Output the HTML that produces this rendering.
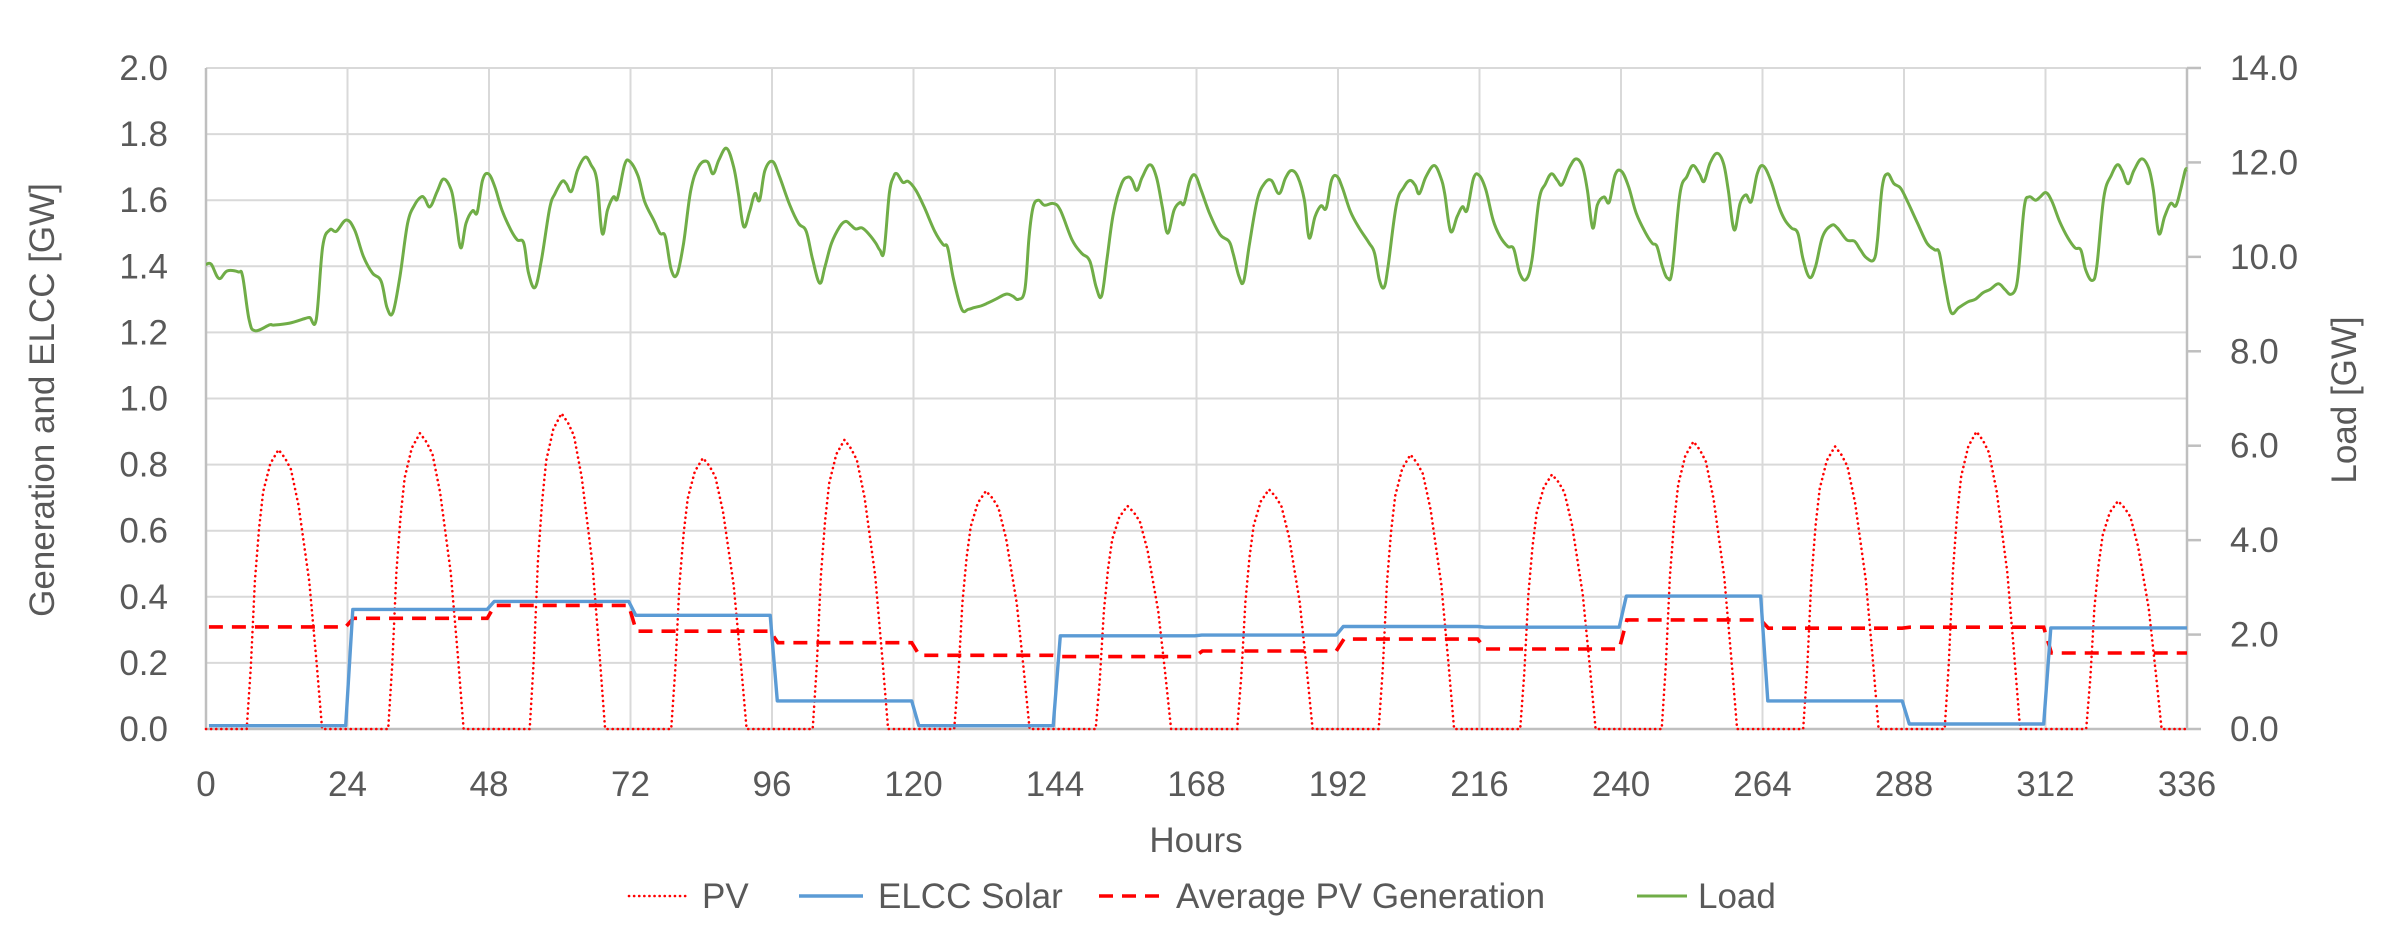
<!DOCTYPE html>
<html><head><meta charset="utf-8">
<style>
html,body{margin:0;padding:0;background:#fff;}
svg{display:block;}
text{font-family:"Liberation Sans",sans-serif;fill:#595959;}
</style></head>
<body>
<svg id="c" width="2394" height="942" viewBox="0 0 2394 942" xmlns="http://www.w3.org/2000/svg">
<g id="grid" stroke="#d9d9d9" stroke-width="2"></g>
<g id="series"></g>
<g id="labels"></g>
</svg>
<script>
var NS="http://www.w3.org/2000/svg";
var FS=35;
function X(h){return 206+h*5.8958;}
function Y(v){return 729-v*330.5;}
function el(tag,attrs,parent,txt){var e=document.createElementNS(NS,tag);for(var k in attrs)e.setAttribute(k,attrs[k]);if(txt!==undefined)e.textContent=txt;parent.appendChild(e);return e;}
var grid=document.getElementById('grid'),ser=document.getElementById('series'),lab=document.getElementById('labels');
for(var i=0;i<=10;i++){var y=Y(i*0.2);el('line',{x1:206,x2:2187,y1:y,y2:y},grid);
 el('text',{x:168,y:y+12,'text-anchor':'end','font-size':FS},lab,(i*0.2).toFixed(1));}
for(var d=0;d<=14;d++){var x=X(d*24);el('line',{x1:x,x2:x,y1:68,y2:729},grid);
 el('text',{x:x,y:796,'text-anchor':'middle','font-size':FS},lab,String(d*24));}
el('line',{x1:206,x2:206,y1:68,y2:729,stroke:'#bfbfbf','stroke-width':2.5},grid);
el('line',{x1:206,x2:2187,y1:729,y2:729,stroke:'#bfbfbf','stroke-width':2.5},grid);
el('line',{x1:2187,x2:2187,y1:68,y2:729,stroke:'#bfbfbf','stroke-width':2.5},grid);
for(var j=0;j<=7;j++){var yy=729-j*94.43;el('line',{x1:2187,x2:2201,y1:yy,y2:yy,stroke:'#bfbfbf','stroke-width':2.5},grid);
 el('text',{x:2230,y:yy+12,'text-anchor':'start','font-size':FS},lab,(j*2).toFixed(1));}
el('text',{x:0,y:0,'text-anchor':'middle','font-size':FS,transform:'translate(54,400) rotate(-90)'},lab,'Generation and ELCC [GW]');
el('text',{x:0,y:0,'text-anchor':'middle','font-size':FS,transform:'translate(2356,400) rotate(-90)'},lab,'Load [GW]');
el('text',{x:1196,y:852,'text-anchor':'middle','font-size':FS},lab,'Hours');

var L=[[0,1.406],[0.9,1.406],[2.2,1.363],[3.6,1.386],[5.5,1.383],[6.2,1.37],[7.3,1.24],[8.3,1.205],[10.8,1.223],[11.5,1.222],[14.2,1.228],[16.8,1.242],[17.6,1.245],[18.7,1.24],[19.8,1.46],[21,1.51],[22.1,1.506],[23.8,1.54],[25.2,1.51],[26.7,1.43],[28.2,1.38],[29.7,1.355],[30.7,1.275],[31.7,1.26],[32.9,1.37],[34.2,1.53],[35.4,1.586],[36.5,1.61],[37.1,1.605],[38,1.58],[39.2,1.626],[40.3,1.664],[41.6,1.63],[42.3,1.56],[43.2,1.456],[44.1,1.53],[45.2,1.568],[46,1.563],[46.9,1.66],[47.9,1.68],[49,1.64],[50.2,1.57],[51.7,1.51],[52.8,1.48],[53.9,1.47],[54.7,1.38],[55.8,1.336],[56.9,1.42],[58.3,1.576],[59.2,1.62],[60.4,1.657],[61.1,1.65],[62,1.627],[63,1.69],[64.3,1.73],[65.3,1.707],[66.3,1.66],[67.2,1.50],[68.1,1.57],[69.1,1.61],[69.8,1.606],[71,1.707],[71.9,1.717],[73.3,1.672],[74.4,1.596],[75.9,1.541],[77,1.50],[77.9,1.49],[78.9,1.39],[79.9,1.376],[81,1.47],[82.2,1.627],[83.5,1.70],[85,1.717],[86,1.68],[87,1.722],[88.3,1.757],[89.5,1.70],[90.3,1.62],[91.2,1.52],[92.2,1.566],[93.1,1.62],[93.9,1.60],[94.8,1.69],[96.1,1.717],[97.3,1.67],[99,1.586],[100.5,1.53],[101.8,1.506],[102.9,1.42],[104.1,1.349],[105,1.40],[106.1,1.47],[107.5,1.52],[108.5,1.536],[109.3,1.526],[110.2,1.513],[111.3,1.516],[112.5,1.496],[113.6,1.47],[114.3,1.449],[115,1.446],[115.9,1.62],[116.6,1.67],[117.2,1.68],[118.2,1.654],[119.1,1.657],[120.4,1.63],[121.8,1.58],[123.6,1.506],[125,1.466],[125.8,1.456],[126.8,1.36],[128.2,1.27],[129.3,1.27],[130.3,1.275],[131.4,1.28],[132.5,1.288],[133.9,1.30],[135.7,1.316],[136.8,1.31],[137.8,1.30],[138.9,1.33],[139.6,1.49],[140.3,1.58],[141.2,1.60],[142.2,1.585],[143.7,1.59],[144.9,1.57],[146.9,1.48],[148.5,1.44],[149.9,1.416],[151,1.336],[151.9,1.31],[152.8,1.42],[153.9,1.56],[155.3,1.65],[156.4,1.67],[157.1,1.66],[157.9,1.63],[158.8,1.67],[160.1,1.707],[161.2,1.67],[162.2,1.58],[163.1,1.50],[164.2,1.57],[165.2,1.593],[165.9,1.59],[166.9,1.66],[167.8,1.675],[168.8,1.63],[170.3,1.556],[172,1.496],[173.5,1.476],[174.2,1.44],[175.2,1.37],[176,1.355],[177,1.47],[178.3,1.60],[179.5,1.65],[180.7,1.66],[182,1.62],[183.1,1.667],[184.1,1.69],[185.2,1.67],[186.3,1.60],[187.1,1.486],[188.1,1.55],[189.1,1.583],[190,1.576],[190.9,1.66],[191.8,1.673],[192.7,1.64],[194.1,1.566],[195.6,1.516],[197.3,1.47],[198.2,1.44],[199,1.36],[199.8,1.336],[200.5,1.40],[201.9,1.586],[203.2,1.64],[204.2,1.66],[205.1,1.645],[205.8,1.62],[206.9,1.67],[208.3,1.705],[209.4,1.67],[210.1,1.62],[211.1,1.506],[212.2,1.55],[213.1,1.58],[213.9,1.57],[215,1.667],[216,1.674],[217.1,1.63],[218.3,1.54],[219.5,1.49],[220.8,1.46],[221.8,1.453],[222.8,1.38],[223.9,1.36],[224.9,1.42],[226.1,1.60],[227.2,1.65],[228.2,1.68],[229.2,1.66],[230,1.647],[231.3,1.70],[232.4,1.725],[233.5,1.70],[234.3,1.63],[235.2,1.516],[236,1.586],[237.1,1.61],[238,1.594],[239,1.677],[240.1,1.687],[241.3,1.64],[242.6,1.56],[244.2,1.50],[245.3,1.47],[246.1,1.46],[247,1.40],[247.9,1.364],[248.7,1.39],[250,1.62],[251.2,1.672],[252.2,1.705],[253.3,1.68],[254.1,1.657],[255.1,1.712],[256.3,1.742],[257.4,1.71],[258.2,1.63],[259.2,1.51],[260.2,1.59],[261.2,1.616],[262.1,1.596],[263.1,1.68],[264.1,1.704],[265.4,1.66],[266.8,1.58],[267.8,1.54],[268.9,1.516],[270,1.50],[270.9,1.42],[272,1.366],[273,1.40],[274.2,1.49],[275.7,1.524],[276.7,1.516],[278.3,1.48],[279.6,1.476],[280.6,1.45],[281.6,1.426],[282.9,1.42],[283.5,1.48],[284.3,1.64],[285.2,1.68],[286.3,1.65],[287.4,1.637],[288.6,1.596],[290.3,1.53],[291.9,1.47],[293.2,1.45],[294,1.44],[295,1.34],[296,1.26],[297.3,1.275],[298.9,1.293],[300.1,1.30],[301.4,1.32],[302.6,1.33],[304,1.347],[305.1,1.33],[306.1,1.315],[307,1.335],[307.5,1.40],[308.4,1.58],[309.2,1.61],[310.3,1.60],[311.1,1.61],[312.1,1.623],[313.1,1.596],[314.4,1.536],[315.8,1.486],[317,1.456],[318,1.449],[318.8,1.39],[319.9,1.357],[320.7,1.40],[321.9,1.61],[323.2,1.677],[324.2,1.707],[325,1.69],[326,1.65],[327,1.69],[328.3,1.725],[329.5,1.697],[330.3,1.63],[331.2,1.50],[332.2,1.55],[333.2,1.59],[334.1,1.583],[334.9,1.63],[335.7,1.69],[336,1.692]];
function smooth(pts){var p=pts.map(function(a){return [X(a[0]),Y(a[1])];});var s='M'+p[0][0].toFixed(1)+','+p[0][1].toFixed(1);
 for(var i=0;i<p.length-1;i++){var p0=p[i-1]||p[i],p1=p[i],p2=p[i+1],p3=p[i+2]||p2;var t=0.18;
  var c1x=p1[0]+(p2[0]-p0[0])*t,c1y=p1[1]+(p2[1]-p0[1])*t,c2x=p2[0]-(p3[0]-p1[0])*t,c2y=p2[1]-(p3[1]-p1[1])*t;
  s+=' C'+c1x.toFixed(1)+','+c1y.toFixed(1)+' '+c2x.toFixed(1)+','+c2y.toFixed(1)+' '+p2[0].toFixed(1)+','+p2[1].toFixed(1);}
 return s;}
function poly(pts){return 'M'+pts.map(function(a){return X(a[0]).toFixed(1)+','+Y(a[1]).toFixed(1);}).join(' L');}

var peaks=[0.845,0.895,0.955,0.82,0.875,0.72,0.675,0.725,0.83,0.77,0.87,0.855,0.9,0.69];
var tmpl=[[0,0],[0.7,0.22],[1.4,0.53],[2.1,0.72],[2.8,0.85],[4,0.95],[5.4,1],[6.5,0.97],[7.5,0.93],[8.8,0.8],[10.6,0.53],[11.8,0.25],[12.8,0]];
var pv=[[0,0]];
for(var d=0;d<14;d++){var s0=d*24+6.9;tmpl.forEach(function(t){pv.push([s0+t[0],peaks[d]*t[1]]);});}
pv.push([336,0]);
el('path',{d:poly(pv),fill:'none',stroke:'#ff0000','stroke-width':2.6,'stroke-dasharray':'0.1 5','stroke-linecap':'round'},ser);

function steps(vals,ramp){var pts=[[0.5,vals[0]]];for(var d=0;d<vals.length;d++){var a=d*24,b=d*24+24;
 if(d>0)pts.push([a+ramp,vals[d]]);if(d<vals.length-1)pts.push([b-0.3,vals[d]]);else pts.push([336,vals[d]]);}return pts;}
var avg=[0.309,0.335,0.374,0.296,0.261,0.223,0.219,0.236,0.272,0.242,0.330,0.305,0.308,0.230];
var elcc=[0.01,0.362,0.386,0.344,0.085,0.01,0.282,0.284,0.31,0.308,0.402,0.085,0.015,0.306];
el('path',{d:poly(steps(avg,1.0)),fill:'none',stroke:'#ff0000','stroke-width':3.6,'stroke-dasharray':'14 9'},ser);
el('path',{d:poly(steps(elcc,0.9)),fill:'none',stroke:'#5b9bd5','stroke-width':3.4,'stroke-linejoin':'round'},ser);
el('path',{d:smooth(L),fill:'none',stroke:'#70ad47','stroke-width':3,'stroke-linejoin':'round'},ser);

var ly=896;
el('line',{x1:629,x2:690,y1:ly,y2:ly,stroke:'#ff0000','stroke-width':2.6,'stroke-dasharray':'0.1 5','stroke-linecap':'round'},ser);
el('text',{x:702,y:ly+12,'font-size':FS},lab,'PV');
el('line',{x1:799,x2:863,y1:ly,y2:ly,stroke:'#5b9bd5','stroke-width':3.4},ser);
el('text',{x:878,y:ly+12,'font-size':FS},lab,'ELCC Solar');
el('line',{x1:1099,x2:1160,y1:ly,y2:ly,stroke:'#ff0000','stroke-width':3.6,'stroke-dasharray':'14 9'},ser);
el('text',{x:1176,y:ly+12,'font-size':FS},lab,'Average PV Generation');
el('line',{x1:1637,x2:1687,y1:ly,y2:ly,stroke:'#70ad47','stroke-width':3},ser);
el('text',{x:1698,y:ly+12,'font-size':FS},lab,'Load');
</script>
</body></html>
